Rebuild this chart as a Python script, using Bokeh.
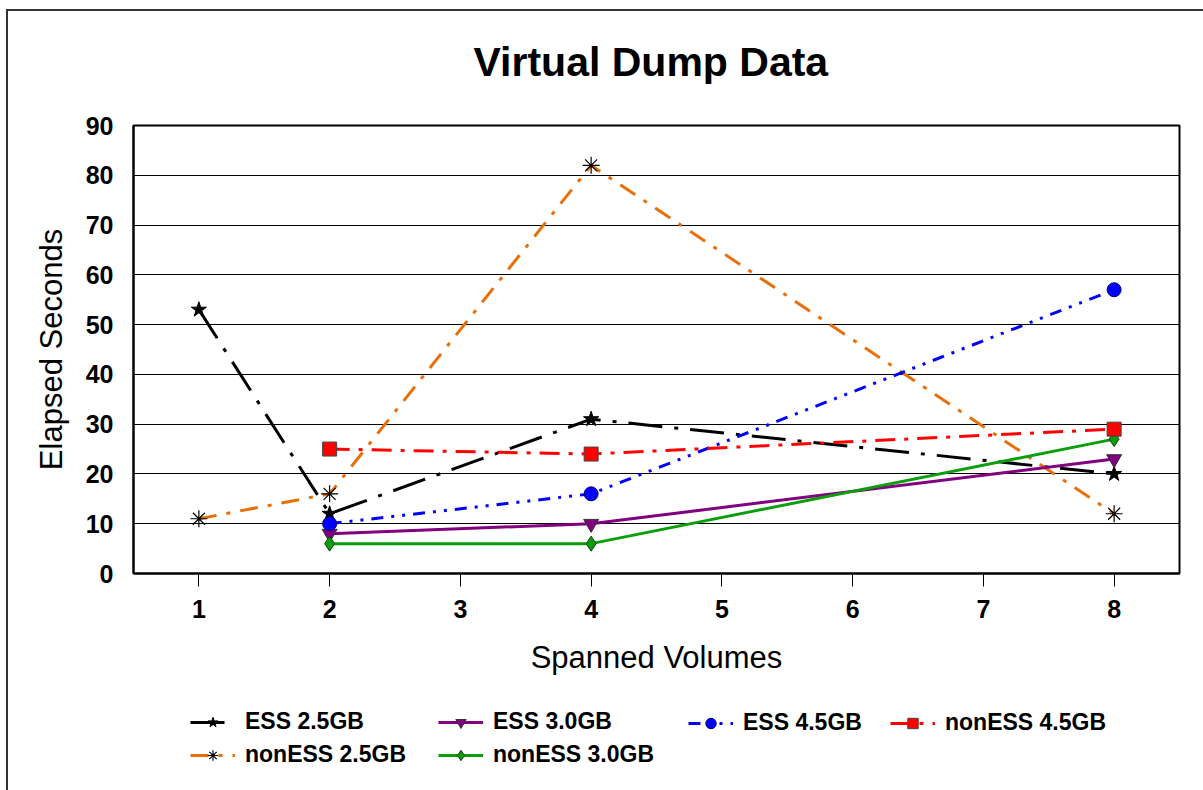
from bokeh.plotting import figure
from bokeh.layouts import column
from bokeh.models import Legend, LegendItem, FixedTicker, Range1d, Title
from bokeh.embed import file_html
from bokeh.resources import INLINE

# ---- data ----
volumes_all = [1, 2, 4, 8]
volumes_from2 = [2, 4, 8]
ess_25 = [53, 12, 31, 20]
non_ess_25 = [11, 16, 82, 12]
ess_30 = [8, 10, 23]
non_ess_30 = [6, 6, 27]
ess_45 = [10, 16, 57]
non_ess_45 = [25, 24, 29]
x_ticks = [1, 2, 3, 4, 5, 6, 7, 8]
y_ticks = [0, 10, 20, 30, 40, 50, 60, 70, 80, 90]

FONT = "Liberation Sans"

p = figure(frame_width=1046, frame_height=448,
           x_range=Range1d(0.5, 8.5), y_range=Range1d(0, 90),
           output_backend="svg", toolbar_location=None,
           min_border_left=125, min_border_top=114,
           min_border_right=24, min_border_bottom=120)

# spacer between title and plot frame
p.add_layout(Title(text=" ", text_font_size="2px", standoff=12), "above")

p.title.text = "Virtual Dump Data"
p.title.align = "left"
p.title.offset = 340
p.title.text_font = FONT
p.title.text_font_size = "41px"
p.title.text_font_style = "bold"
p.title.text_color = "black"
p.title.standoff = 49

p.outline_line_color = "black"
p.outline_line_width = 2
p.xgrid.grid_line_color = None
p.ygrid.grid_line_color = "black"
p.ygrid.grid_line_width = 1
p.ygrid.ticker = FixedTicker(ticks=y_ticks)

p.xaxis.ticker = FixedTicker(ticks=x_ticks)
p.yaxis.ticker = FixedTicker(ticks=y_ticks)
for ax in (p.xaxis[0], p.yaxis[0]):
    ax.axis_line_color = "black"
    ax.axis_line_width = 2
    ax.major_label_text_font = FONT
    ax.major_label_text_font_size = "25px"
    ax.major_label_text_font_style = "bold"
    ax.major_label_text_color = "black"
    ax.axis_label_text_font = FONT
    ax.axis_label_text_font_size = "31px"
    ax.axis_label_text_font_style = "normal"
    ax.axis_label_text_color = "black"
    ax.minor_tick_line_color = None
    ax.major_tick_in = 0

p.yaxis.major_tick_out = 0
p.yaxis.major_label_standoff = 20
p.yaxis.axis_label = "Elapsed Seconds"
p.yaxis.axis_label_standoff = 14

p.xaxis.major_tick_out = 13
p.xaxis.major_tick_line_color = "black"
p.xaxis.major_label_standoff = 13
p.xaxis.axis_label = "Spanned Volumes"
p.xaxis.axis_label_standoff = 19

# legend-only figure placed under the chart (its ranges keep the copies of the
# series out of view; only the legend entries show)
lg = figure(width=1195, height=97, x_range=Range1d(100, 101), y_range=Range1d(500, 501),
            x_axis_location=None, y_axis_location=None,
            output_backend="svg", toolbar_location=None, min_border=0)
lg.outline_line_color = None
lg.xgrid.grid_line_color = None
lg.ygrid.grid_line_color = None


def series(label, xs, ys, color, dash, marker, size, fill, mline, mwidth=1):
    style_line = dict(line_color=color, line_width=3, line_dash=dash)
    style_mark = dict(marker=marker, size=size, fill_color=fill,
                      line_color=mline, line_width=mwidth)
    p.line(xs, ys, **style_line)
    p.scatter(xs, ys, **style_mark)
    ll = lg.line(xs, ys, **style_line)
    lm = lg.scatter(xs, ys, **style_mark)
    return LegendItem(label=label, renderers=[ll, lm])

it_e25 = series("ESS 2.5GB", volumes_all, ess_25, "black", "34 12 4 12", "star", 16, "black", "black")
it_n25 = series("nonESS 2.5GB", volumes_all, non_ess_25, "#E8700A", "18 10 4 10", "asterisk", 17, None, "black", 1.2)
it_e30 = series("ESS 3.0GB", volumes_from2, ess_30, "#800080", "solid", "inverted_triangle", 15, "#800080", "#333333")
it_n30 = series("nonESS 3.0GB", volumes_from2, non_ess_30, "#0A9E0A", "solid", "diamond", 15, "#0A9E0A", "#1a3a1a")
it_e45 = series("ESS 4.5GB", volumes_from2, ess_45, "#0000FF", "12 8 3 8 3 8", "circle", 14, "#0000FF", "#000066")
it_n45 = series("nonESS 4.5GB", volumes_from2, non_ess_45, "#FF0000", "20 9 4 9", "square", 14, "#FF0000", "#444444")


def add_col(items, vx, vy):
    leg = Legend(items=items, location=(vx, vy),
                 label_text_font=FONT, label_text_font_size="23px",
                 label_text_font_style="bold", label_text_color="black",
                 glyph_width=45, glyph_height=26, label_height=26,
                 label_standoff=10, spacing=6, padding=0, margin=0,
                 border_line_color=None, background_fill_alpha=0)
    lg.add_layout(leg, "center")

add_col([it_e25, it_n25], 57, 22)
add_col([it_e30, it_n30], 305, 22)
add_col([it_e45], 555, 54)
add_col([it_n45], 757, 54)

layout = column(p, lg, styles={"border-left": "2px solid #333333",
                               "border-top": "2px solid #333333",
                               "margin-left": "6px", "margin-top": "9px"})

open("out.html", "w").write(file_html(layout, INLINE))
